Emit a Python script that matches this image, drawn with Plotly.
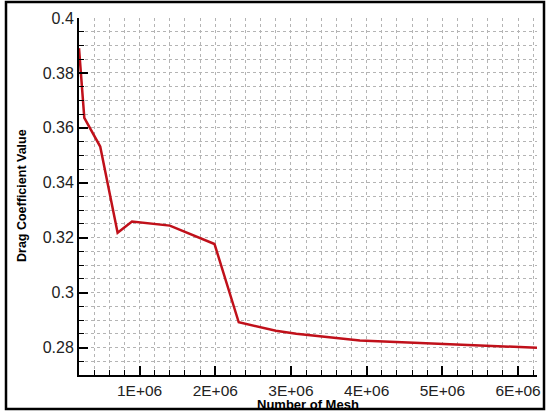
import plotly.graph_objects as go

mesh_count = [0.2e6, 0.27e6, 0.48e6, 0.71e6, 0.90e6, 1.40e6, 1.99e6, 2.31e6, 2.8e6, 3.07e6, 3.91e6, 4.97e6, 6.25e6]
drag_coeff = [0.389, 0.3636, 0.3532, 0.3218, 0.3259, 0.3244, 0.3177, 0.2892, 0.2861, 0.2850, 0.2826, 0.2815, 0.2799]

x_tickvals = [1e6, 2e6, 3e6, 4e6, 5e6, 6e6]
x_ticktext = ["1E+06", "2E+06", "3E+06", "4E+06", "5E+06", "6E+06"]

fig = go.Figure()
fig.add_trace(go.Scatter(
    x=mesh_count, y=drag_coeff, mode="lines",
    line=dict(color="#c0101a", width=2.5),
    showlegend=False,
))

font_family = "Liberation Sans, Arial, sans-serif"
grid_style = dict(showgrid=True, gridcolor="#b4b4b4", griddash="dot", gridwidth=1)

L, R, T, B = 79, 537, 18, 375
PW, PH = R - L, B - T

fig.update_layout(
    width=546, height=414,
    margin=dict(l=L, r=546 - R, t=T, b=414 - B, autoexpand=False),
    paper_bgcolor="white", plot_bgcolor="white",
    font=dict(family=font_family, color="#222222"),
    xaxis=dict(
        range=[0.2e6, 6.25e6],
        tickmode="array", tickvals=x_tickvals, ticktext=x_ticktext,
        ticks="inside", ticklen=9, tickwidth=2, tickcolor="black",
        showline=True, linecolor="black", linewidth=2,
        tickfont=dict(size=15.5, color="#222222"),
        ticklabelstandoff=0,
        automargin=False,
        zeroline=False,
        minor=dict(dtick=0.2e6, tick0=0, ticks="inside", ticklen=5, tickwidth=1,
                   tickcolor="black", showgrid=True, gridcolor="#b4b4b4", griddash="dot", gridwidth=1),
        **grid_style,
    ),
    yaxis=dict(
        range=[0.27, 0.4],
        tick0=0.28, dtick=0.02,
        ticks="inside", ticklen=9, tickwidth=2, tickcolor="black",
        showline=True, linecolor="black", linewidth=2,
        tickfont=dict(size=16, color="#222222"),
        automargin=False,
        zeroline=False,
        minor=dict(dtick=0.005, tick0=0, ticks="inside", ticklen=5, tickwidth=1,
                   tickcolor="black", showgrid=True, gridcolor="#b4b4b4", griddash="dot", gridwidth=1),
        **grid_style,
    ),
    annotations=[
        dict(text="<b>Number of Mesh</b>", xref="paper", yref="paper",
             x=(308 - L) / PW, y=(B - 404) / PH, showarrow=False,
             xanchor="center", yanchor="middle", font=dict(size=13, color="black")),
        dict(text="<b>Drag Coefficient Value</b>", xref="paper", yref="paper",
             x=(22 - L) / PW, y=(B - 196) / PH, showarrow=False, textangle=-90,
             xanchor="center", yanchor="middle", font=dict(size=12.5, color="black")),
    ],
    shapes=[dict(
        type="rect", xref="paper", yref="paper",
        x0=(6 - L) / PW, x1=(544 - L) / PW,
        y0=(B - 409) / PH, y1=(B - 2) / PH,
        line=dict(color="black", width=2.5), fillcolor="rgba(0,0,0,0)", layer="above",
    )],
)

fig.write_html("out.html")
